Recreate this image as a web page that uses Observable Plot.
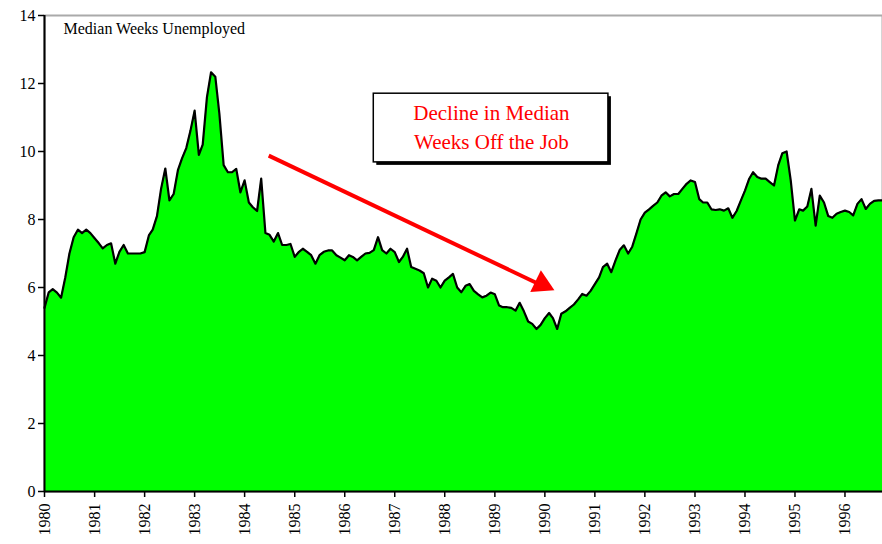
<!DOCTYPE html>
<html>
<head>
<meta charset="utf-8">
<script src="https://cdn.jsdelivr.net/npm/d3@7"></script>
<script src="https://cdn.jsdelivr.net/npm/@observablehq/plot@0.6"></script>
<style>
  html, body { margin: 0; padding: 0; background: #fff; }
  #chart svg { display: block; }
</style>
</head>
<body>
<div id="chart"></div>
<script>
// Monthly median weeks unemployed, starting January 1980
const startYear = 1980;
const weeks = [
  5.4, 5.86, 5.95, 5.85, 5.7, 6.3, 7.0, 7.48, 7.7, 7.6, 7.7, 7.6,
  7.45, 7.3, 7.15, 7.25, 7.3, 6.7, 7.05, 7.25, 7.0, 7.0, 7.0, 7.0,
  7.04, 7.53, 7.7, 8.1, 8.9, 9.5, 8.56, 8.75, 9.45, 9.8, 10.1, 10.6,
  11.2, 9.9, 10.2, 11.6, 12.33, 12.2, 11.1, 9.6, 9.39, 9.39, 9.49, 8.8,
  9.15, 8.5, 8.36, 8.25, 9.2, 7.6, 7.55, 7.35, 7.6, 7.25, 7.25, 7.28,
  6.9, 7.05, 7.14, 7.05, 6.95, 6.7, 6.95, 7.05, 7.09, 7.09, 6.95, 6.88,
  6.8, 6.95, 6.9, 6.8, 6.9, 7.0, 7.02, 7.1, 7.48, 7.1, 7.0, 7.14,
  7.04, 6.75, 6.9, 7.14, 6.6, 6.55, 6.5, 6.42, 6.0, 6.26, 6.2, 6.0,
  6.2, 6.3, 6.4, 6.0, 5.86, 6.05, 6.1, 5.9, 5.8, 5.71, 5.76, 5.85,
  5.8, 5.47, 5.42, 5.42, 5.4, 5.32, 5.55, 5.3, 5.0, 4.93, 4.78, 4.9,
  5.1, 5.25, 5.1, 4.78, 5.23, 5.3, 5.4, 5.5, 5.65, 5.81, 5.76, 5.9,
  6.1, 6.3, 6.6, 6.7, 6.45, 6.8, 7.1, 7.24, 7.0, 7.2, 7.6, 8.0,
  8.2, 8.3, 8.4, 8.5, 8.7, 8.8, 8.68, 8.75, 8.75, 8.9, 9.05, 9.15,
  9.1, 8.6, 8.5, 8.5, 8.3, 8.28, 8.3, 8.26, 8.33, 8.05, 8.25, 8.55,
  8.85, 9.2, 9.39, 9.25, 9.2, 9.2, 9.1, 9.0, 9.6, 9.95, 10.0, 9.15,
  7.97, 8.3, 8.26, 8.38, 8.9, 7.82, 8.7, 8.5, 8.1, 8.05, 8.17, 8.22,
  8.26, 8.22, 8.12, 8.46, 8.6, 8.31, 8.46, 8.55, 8.56, 8.56
];
const yTicks = [0, 2, 4, 6, 8, 10, 12, 14];
const titleText = ["Median Weeks Unemployed"];
const noteLines = ["Decline in Median", "Weeks Off the Job"];
const noteDate = ["1988-12-07", "1988-12-07"];
const noteValue = [11.12, 10.26];
const boxX = ["1986-08-01", "1991-04-10"];
const boxY = [9.68, 11.7];
const arrowX = ["1984-06-25", "1990-01-10"];
const arrowY = [9.88, 6.0];
const arrowHeadX = ["1989-12-10"];
const arrowHeadY = [6.1];

const data = weeks.map((v, i) => ({ date: new Date(Date.UTC(startYear, i, 1)), v }));
const pd = s => new Date(s + "T00:00:00Z");
const notes = noteLines.map((t, i) => ({ t, date: pd(noteDate[i]), v: noteValue[i] }));
const box = [{ x1: pd(boxX[0]), x2: pd(boxX[1]), y1: boxY[0], y2: boxY[1] }];
const arrow = [{ x1: pd(arrowX[0]), y1: arrowY[0], x2: pd(arrowX[1]), y2: arrowY[1] }];
const head = [{ x: pd(arrowHeadX[0]), y: arrowHeadY[0] }];

const chart = Plot.plot({
  width: 882,
  height: 544,
  marginTop: 15,
  marginLeft: 44,
  marginRight: 0,
  marginBottom: 53,
  style: { fontFamily: "Liberation Serif", background: "#fff", color: "#000" },
  x: {
    type: "utc",
    domain: [data[0].date, data[data.length - 1].date],
    ticks: d3.utcYear.every(1),
    tickFormat: d3.utcFormat("%Y"),
    label: null
  },
  y: { domain: [0, 14], ticks: yTicks, label: null },
  marks: [
    Plot.frame({ stroke: "#aaa", strokeWidth: 2 }),
    Plot.areaY(data, { x: "date", y: "v", fill: "#00ff00", curve: "linear" }),
    Plot.lineY(data, { x: "date", y: "v", stroke: "#000", strokeWidth: 2.2 }),
    Plot.axisY({ ticks: yTicks, tickSize: 6, tickPadding: 3, fontSize: 16, label: null, strokeWidth: 1.5 }),
    Plot.axisX({ ticks: d3.utcYear.every(1), tickFormat: d3.utcFormat("%Y"), tickSize: 6, tickPadding: 6, tickRotate: -90, fontSize: 16, label: null, strokeWidth: 1.5 }),
    Plot.ruleX([data[0].date], { stroke: "#000", strokeWidth: 2 }),
    Plot.ruleY([0], { stroke: "#000", strokeWidth: 2 }),
    Plot.text(titleText, { frameAnchor: "top-left", dx: 19, dy: 7, fontSize: 16, fill: "#000", textAnchor: "start", lineAnchor: "top" }),
    Plot.link(arrow, { x1: "x1", y1: "y1", x2: "x2", y2: "y2", stroke: "#ff0000", strokeWidth: 4 }),
    Plot.dot(head, { x: "x", y: "y", symbol: "triangle", r: 9, fill: "#ff0000", stroke: "none", rotate: 116 }),
    Plot.rect(box, { x1: "x1", x2: "x2", y1: "y1", y2: "y2", fill: "#000", dx: 3, dy: 3 }),
    Plot.rect(box, { x1: "x1", x2: "x2", y1: "y1", y2: "y2", fill: "#fff", stroke: "#000", strokeWidth: 1.5 }),
    Plot.text(notes, { x: "date", y: "v", text: "t", fill: "#ff0000", fontSize: 21 })
  ]
});
document.getElementById("chart").appendChild(chart);
</script>
</body>
</html>
